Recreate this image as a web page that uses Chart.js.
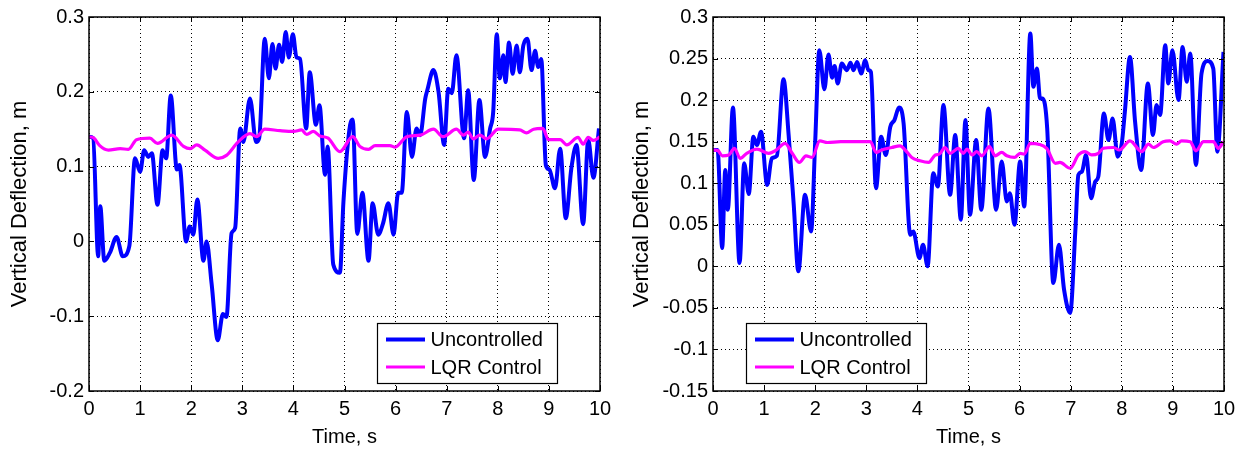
<!DOCTYPE html>
<html>
<head>
<meta charset="utf-8">
<script src="https://cdn.jsdelivr.net/npm/chart.js@4"></script>
<style>
  body { margin: 0; background: #fff; width: 1244px; height: 452px; overflow: hidden; position: relative; }
  canvas { position: absolute; top: 0; }
</style>
</head>
<body>
<canvas id="left" width="622" height="452" style="left:0"></canvas>
<canvas id="right" width="622" height="452" style="left:622px"></canvas>
<script>
// axis ticks
const timeTicks = [0, 1, 2, 3, 4, 5, 6, 7, 8, 9, 10];
const leftYTicks = [-0.2, -0.1, 0, 0.1, 0.2, 0.3];
const rightYTicks = [-0.15, -0.1, -0.05, 0, 0.05, 0.1, 0.15, 0.2, 0.25, 0.3];
const seriesNames = ['Uncontrolled', 'LQR Control'];

// left plot, uncontrolled
const leftUncT = [0, 0.08, 0.18, 0.22, 0.30, 0.41, 0.54, 0.66, 0.79, 0.90, 1.00, 1.08, 1.16, 1.23, 1.34, 1.44, 1.51, 1.60, 1.72, 1.77,
  1.90, 1.97, 2.04, 2.12, 2.24, 2.30, 2.40, 2.52, 2.62, 2.69, 2.79, 2.86, 2.96, 3.02, 3.15, 3.27, 3.33, 3.44, 3.52, 3.59,
  3.65, 3.72, 3.78, 3.85, 3.91, 3.99, 4.06, 4.13, 4.25, 4.32, 4.44, 4.51, 4.62, 4.67, 4.78, 4.91, 4.98, 5.11, 5.16, 5.25,
  5.35, 5.47, 5.55, 5.66, 5.75, 5.86, 5.96, 6.05, 6.12, 6.22, 6.32, 6.41, 6.48, 6.58, 6.62, 6.74, 6.84, 6.95, 7.03, 7.10,
  7.19, 7.34, 7.42, 7.53, 7.64, 7.75, 7.85, 7.91, 7.98, 8.04, 8.11, 8.15, 8.22, 8.29, 8.37, 8.43, 8.50, 8.58, 8.66, 8.73,
  8.79, 8.85, 8.94, 9.01, 9.12, 9.22, 9.33, 9.44, 9.54, 9.67, 9.77, 9.87, 9.98];
const leftUncV = [0.14, 0.138, -0.02, 0.047, -0.026, -0.015, 0.006, -0.02, -0.006, 0.111, 0.093, 0.122, 0.113, 0.118, 0.049, 0.122, 0.111, 0.195, 0.096, 0.102,
  0.0, 0.02, 0.009, 0.056, -0.026, 0.0, -0.057, -0.132, -0.097, -0.101, 0.011, 0.018, 0.151, 0.133, 0.191, 0.133, 0.138, 0.271, 0.218, 0.264,
  0.231, 0.263, 0.240, 0.280, 0.246, 0.277, 0.246, 0.244, 0.151, 0.226, 0.156, 0.182, 0.089, 0.127, -0.031, -0.042, 0.054, 0.156, 0.163, 0.01,
  0.065, -0.026, 0.051, 0.009, 0.023, 0.051, 0.009, 0.065, 0.065, 0.173, 0.113, 0.151, 0.142, 0.191, 0.202, 0.229, 0.200, 0.129, 0.204, 0.198,
  0.249, 0.138, 0.202, 0.082, 0.189, 0.113, 0.151, 0.173, 0.277, 0.218, 0.249, 0.213, 0.266, 0.224, 0.262, 0.226, 0.262, 0.271, 0.229, 0.255,
  0.233, 0.244, 0.102, 0.096, 0.071, 0.124, 0.031, 0.098, 0.129, 0.023, 0.136, 0.085, 0.151];

// left plot, LQR control
const leftLqrT = [0, 0.1, 0.21, 0.38, 0.61, 0.77, 0.93, 1.19, 1.34, 1.62, 1.85, 1.98, 2.11, 2.27, 2.53, 2.69, 2.92, 3.15, 3.28, 3.44,
  3.74, 4.0, 4.16, 4.26, 4.39, 4.52, 4.68, 4.91, 5.16, 5.30, 5.47, 5.60, 5.89, 5.99, 6.22, 6.48, 6.74, 6.93, 7.19, 7.33,
  7.42, 7.52, 7.65, 7.78, 8.01, 8.43, 8.56, 8.70, 8.88, 8.99, 9.22, 9.35, 9.57, 9.67, 9.77, 9.87, 10];
const leftLqrV = [0.14, 0.138, 0.128, 0.122, 0.124, 0.123, 0.136, 0.138, 0.131, 0.142, 0.127, 0.124, 0.129, 0.122, 0.111, 0.115, 0.133, 0.144, 0.140, 0.150,
  0.148, 0.147, 0.149, 0.143, 0.147, 0.141, 0.138, 0.120, 0.140, 0.127, 0.123, 0.128, 0.128, 0.126, 0.140, 0.142, 0.150, 0.140, 0.150, 0.142,
  0.146, 0.137, 0.142, 0.137, 0.150, 0.149, 0.145, 0.150, 0.151, 0.136, 0.136, 0.129, 0.139, 0.130, 0.139, 0.135, 0.140];

// right plot, uncontrolled
const rightUncT = [0, 0.09, 0.18, 0.24, 0.29, 0.39, 0.52, 0.61, 0.70, 0.79, 0.86, 0.94, 1.06, 1.15, 1.25, 1.38, 1.48, 1.58, 1.67, 1.80,
  1.92, 2.0, 2.08, 2.18, 2.26, 2.33, 2.38, 2.44, 2.52, 2.62, 2.69, 2.75, 2.82, 2.90, 2.98, 3.04, 3.09, 3.19, 3.29, 3.38,
  3.47, 3.55, 3.64, 3.73, 3.86, 3.92, 4.04, 4.11, 4.20, 4.31, 4.40, 4.51, 4.64, 4.74, 4.85, 4.94, 5.03, 5.15, 5.25, 5.39,
  5.54, 5.65, 5.75, 5.81, 5.90, 6.01, 6.09, 6.21, 6.27, 6.34, 6.40, 6.45, 6.54, 6.66, 6.77, 6.87, 6.99, 7.09, 7.15, 7.22,
  7.30, 7.40, 7.48, 7.54, 7.65, 7.74, 7.82, 7.92, 8.0, 8.06, 8.16, 8.26, 8.38, 8.51, 8.61, 8.68, 8.75, 8.85, 8.91, 8.99,
  9.11, 9.19, 9.27, 9.34, 9.45, 9.56, 9.68, 9.79, 9.87, 9.99];
const rightUncV = [0.140, 0.14, 0.022, 0.116, 0.068, 0.191, 0.004, 0.124, 0.087, 0.156, 0.146, 0.162, 0.098, 0.130, 0.133, 0.225, 0.158, 0.074, -0.006, 0.086,
  0.042, 0.150, 0.260, 0.213, 0.255, 0.227, 0.241, 0.220, 0.244, 0.236, 0.245, 0.236, 0.246, 0.232, 0.248, 0.236, 0.234, 0.094, 0.156, 0.134,
  0.168, 0.176, 0.191, 0.172, 0.038, 0.042, 0.010, 0.026, 0.0, 0.112, 0.096, 0.194, 0.086, 0.158, 0.056, 0.176, 0.062, 0.152, 0.068, 0.190,
  0.068, 0.126, 0.078, 0.088, 0.050, 0.126, 0.072, 0.280, 0.216, 0.238, 0.202, 0.202, 0.166, -0.020, 0.026, -0.028, -0.056, 0.042, 0.110, 0.114,
  0.134, 0.082, 0.102, 0.108, 0.184, 0.152, 0.178, 0.132, 0.148, 0.186, 0.252, 0.174, 0.116, 0.220, 0.158, 0.194, 0.182, 0.266, 0.220, 0.260,
  0.200, 0.264, 0.222, 0.256, 0.122, 0.232, 0.247, 0.238, 0.138, 0.258];

// right plot, LQR control
const rightLqrT = [0, 0.1, 0.18, 0.31, 0.42, 0.53, 0.66, 0.86, 1.09, 1.24, 1.41, 1.55, 1.69, 1.82, 1.94, 2.09, 2.24, 2.50, 2.89, 3.08,
  3.19, 3.30, 3.50, 3.66, 3.76, 3.89, 4.05, 4.22, 4.35, 4.43, 4.54, 4.64, 4.80, 4.90, 4.97, 5.07, 5.16, 5.26, 5.41, 5.52,
  5.65, 5.75, 5.90, 6.01, 6.09, 6.21, 6.37, 6.53, 6.70, 6.79, 6.99, 7.15, 7.28, 7.41, 7.54, 7.64, 7.84, 7.95, 8.16, 8.39,
  8.52, 8.62, 8.81, 8.94, 9.07, 9.17, 9.34, 9.45, 9.60, 9.79, 9.89, 9.99];
const rightLqrV = [0.140, 0.139, 0.133, 0.134, 0.142, 0.130, 0.136, 0.141, 0.136, 0.140, 0.148, 0.136, 0.125, 0.133, 0.131, 0.151, 0.149, 0.150, 0.150, 0.150,
  0.137, 0.140, 0.143, 0.145, 0.140, 0.131, 0.127, 0.125, 0.134, 0.135, 0.143, 0.136, 0.142, 0.136, 0.141, 0.134, 0.138, 0.133, 0.144, 0.133,
  0.137, 0.133, 0.131, 0.136, 0.135, 0.148, 0.147, 0.142, 0.124, 0.125, 0.118, 0.134, 0.138, 0.134, 0.136, 0.142, 0.143, 0.140, 0.151, 0.138,
  0.147, 0.143, 0.150, 0.151, 0.147, 0.151, 0.150, 0.139, 0.150, 0.150, 0.142, 0.150];

const FONT = '"Liberation Sans", Arial, Helvetica, sans-serif';
Chart.defaults.font.family = FONT;
Chart.defaults.font.size = 20;
Chart.defaults.color = '#000';

const zip = (t, v) => t.map((x, i) => ({ x: x, y: v[i] }));

// black box round the axes with inward tick marks, like MATLAB
const framePlugin = {
  id: 'frame',
  afterDatasetsDraw(chart) {
    const { ctx, chartArea: a, scales: { x, y } } = chart;
    ctx.save();
    ctx.strokeStyle = '#000';
    ctx.lineWidth = 1.5;
    ctx.strokeRect(a.left, a.top, a.right - a.left, a.bottom - a.top);
    ctx.lineWidth = 1;
    ctx.beginPath();
    x.ticks.forEach(t => {
      const px = Math.round(x.getPixelForValue(t.value)) + 0.5;
      ctx.moveTo(px, a.bottom); ctx.lineTo(px, a.bottom - 5);
      ctx.moveTo(px, a.top); ctx.lineTo(px, a.top + 5);
    });
    y.ticks.forEach(t => {
      const py = Math.round(y.getPixelForValue(t.value)) + 0.5;
      ctx.moveTo(a.left, py); ctx.lineTo(a.left + 5, py);
      ctx.moveTo(a.right, py); ctx.lineTo(a.right - 5, py);
    });
    ctx.stroke();
    ctx.restore();
  }
};

// boxed legend inside the axes
const boxLegend = {
  id: 'boxLegend',
  afterDraw(chart, args, opts) {
    const { ctx, chartArea: a } = chart;
    const w = 180, h = 60;
    const left = opts.side === 'right' ? a.right - opts.offset - w : a.left + opts.offset;
    const top = a.bottom - 8 - h;
    ctx.save();
    ctx.fillStyle = '#fff';
    ctx.fillRect(left, top, w, h);
    ctx.strokeStyle = '#000';
    ctx.lineWidth = 1.2;
    ctx.strokeRect(left + 0.5, top + 0.5, w, h);
    ctx.font = '20px ' + FONT;
    ctx.textBaseline = 'middle';
    ctx.fillStyle = '#000';
    chart.data.datasets.forEach((ds, i) => {
      const cy = top + 16.5 + i * 27.5;
      ctx.strokeStyle = ds.borderColor;
      ctx.lineWidth = ds.borderWidth;
      ctx.beginPath();
      ctx.moveTo(left + 9, cy);
      ctx.lineTo(left + 48, cy);
      ctx.stroke();
      ctx.fillText(ds.label, left + 53.5, cy + 1);
    });
    ctx.restore();
  }
};

function makeChart(id, unc, lqr, yMin, yMax, yTicks, yWidth, padRight, legendOpts) {
  return new Chart(document.getElementById(id), {
    type: 'line',
    data: {
      datasets: [
        { label: seriesNames[0], data: unc, borderColor: '#0000ff', borderWidth: 4, order: 1 },
        { label: seriesNames[1], data: lqr, borderColor: '#ff00ff', borderWidth: 3.2, order: 0 }
      ]
    },
    options: {
      responsive: false,
      animation: false,
      devicePixelRatio: 1,
      layout: { padding: { top: 15, right: padRight, left: 0, bottom: 0 } },
      elements: {
        point: { radius: 0 },
        line: { cubicInterpolationMode: 'monotone', fill: false }
      },
      plugins: {
        legend: { display: false },
        tooltip: { enabled: false },
        boxLegend: legendOpts
      },
      scales: {
        x: {
          type: 'linear', min: 0, max: 10,
          afterBuildTicks: s => { s.ticks = timeTicks.map(v => ({ value: v })); },
          afterFit: s => { s.height = 61; },
          ticks: { padding: 6, maxRotation: 0, callback: v => String(v) },
          grid: { color: '#000', lineWidth: 1, drawTicks: false },
          border: { display: false, dash: [1, 3] },
          title: { display: true, text: 'Time, s', font: { size: 20 }, padding: { top: 0, bottom: 3 } }
        },
        y: {
          type: 'linear', min: yMin, max: yMax,
          afterBuildTicks: s => { s.ticks = yTicks.map(v => ({ value: v })); },
          afterFit: s => { s.width = yWidth; },
          ticks: { padding: 5, callback: v => String(v) },
          grid: { color: '#000', lineWidth: 1, drawTicks: false },
          border: { display: false, dash: [1, 3] },
          title: { display: true, text: 'Vertical Deflection, m', font: { size: 22 }, padding: { top: 7, bottom: 0 } }
        }
      }
    },
    plugins: [framePlugin, boxLegend]
  });
}

makeChart('left', zip(leftUncT, leftUncV), zip(leftLqrT, leftLqrV), -0.2, 0.3, leftYTicks, 89, 22,
  { side: 'right', offset: 43 });
makeChart('right', zip(rightUncT, rightUncV), zip(rightLqrT, rightLqrV), -0.15, 0.3, rightYTicks, 91, 20,
  { side: 'left', offset: 33 });
</script>
</body>
</html>
